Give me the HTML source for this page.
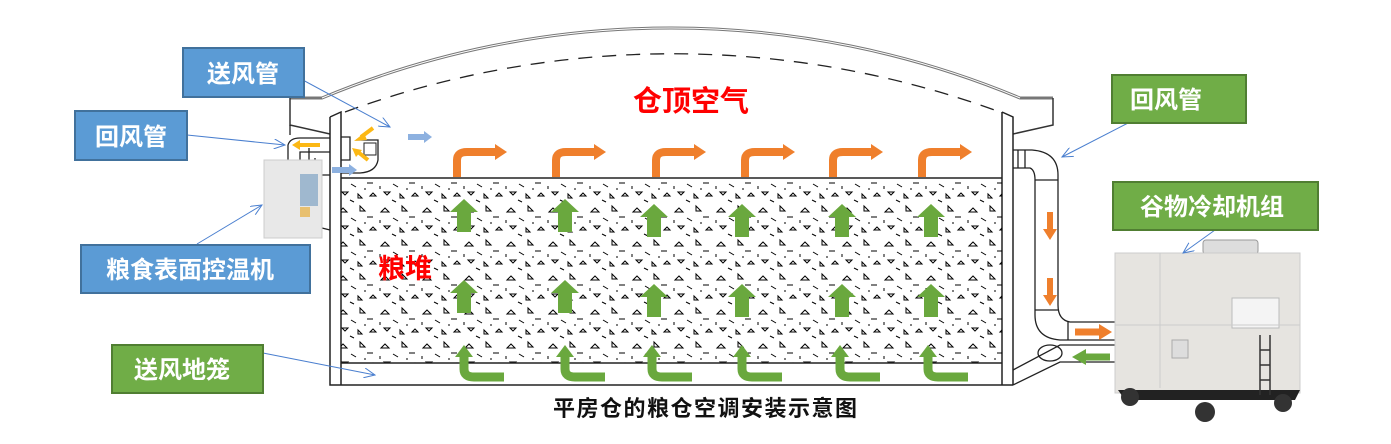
<!DOCTYPE html>
<html><head><meta charset="utf-8"><style>
body{margin:0;width:1391px;height:444px;background:#fff;overflow:hidden}
svg{display:block}
.lb{font-family:"Liberation Sans","Noto Sans CJK SC",sans-serif;font-weight:bold;fill:#fff}
</style></head><body>
<svg width="1391" height="444" viewBox="0 0 1391 444">
<defs>
<pattern id="g" width="42" height="34" patternUnits="userSpaceOnUse">
<g stroke="#000" stroke-width="1" fill="none">
<path d="M3 8 l4 -4 l4 4 z"/><path d="M24 2 v5 h5 z"/><path d="M15 14 l5 3"/><path d="M31 13 h6"/>
<path d="M6 22 h6 l-3 3 z"/><path d="M22 24 v4 h4 z"/><path d="M34 26 l3 -3 l3 3 z"/><path d="M14 30 l4 2"/>
<path d="M2 16 v3"/><path d="M28 19 h2"/>
</g>
</pattern>
<marker id="ab" markerWidth="12" markerHeight="10" refX="11" refY="5" orient="auto" markerUnits="userSpaceOnUse"><path d="M0 0 L11 5 L0 10" fill="none" stroke="#4a7fcf" stroke-width="1"/></marker>
<g id="oa"><path d="M0 25 V8 Q0 0 10 0 H40" fill="none" stroke="#ef7f2c" stroke-width="8"/><path d="M38 -8 L50 0 L38 8 z" fill="#ef7f2c"/></g>
<g id="ua"><path d="M-14 13 L0 0 L14 13 H7 V33 H-7 V13 z" fill="#6aa83e"/></g>
<g id="la"><path d="M0 8 V22 Q0 30 10 30 H40" fill="none" stroke="#6aa83e" stroke-width="9"/><path d="M-9 10 L0 -2 L9 10 z" fill="#6aa83e"/></g>
</defs>
<!-- roof -->
<path d="M290 98 H322 A905 905 0 0 1 1020 98 H1053" fill="none" stroke="#777" stroke-width="3"/>
<path d="M322 98 A905 905 0 0 1 1020 98" fill="none" stroke="#fff" stroke-width="1"/>
<path d="M345 112 A950 950 0 0 1 1000 112" fill="none" stroke="#222" stroke-width="1.3" stroke-dasharray="14 10"/>
<path d="M290 98 V125 L330 134" fill="none" stroke="#333" stroke-width="1.5"/>
<path d="M1053 98 V125 L1013 134" fill="none" stroke="#333" stroke-width="1.5"/>
<!-- walls -->
<path d="M330 117 L341 112 V385 M330 117 V385 H1013 M1002 112 L1013 117 V385 M1002 112 V385" fill="none" stroke="#222" stroke-width="1.5"/>
<!-- grain -->
<rect x="341" y="178" width="661" height="185" fill="url(#g)"/>
<path d="M341 178 H1002 M341 363 H1002" stroke="#222" stroke-width="1.5"/>
<!-- right duct -->
<g fill="none" stroke="#222" stroke-width="1.3">
<path d="M1013 150 H1032 Q1058 152 1058 175 V305 Q1058 320 1070 322 H1115"/>
<path d="M1013 168 H1030 Q1035 170 1035 180 V315 Q1035 338 1060 340 H1115"/>
<path d="M1018 150 V168 M1025 150 V168 M1035 180 H1058 M1035 310 H1058 M1068 322 V340"/>
<ellipse cx="1050" cy="353" rx="12" ry="8"/>
<path d="M1013 370 L1060 345 H1115 M1013 385 L1060 362 H1115"/>
</g>
<path d="M1050 212 V230" stroke="#ef7f2c" stroke-width="6"/><path d="M1043 229 L1050 240 L1057 229z" fill="#ef7f2c"/>
<path d="M1050 278 V296" stroke="#ef7f2c" stroke-width="6"/><path d="M1043 295 L1050 306 L1057 295z" fill="#ef7f2c"/>
<path d="M1075 332 H1100" stroke="#ef7f2c" stroke-width="7"/><path d="M1099 324 L1112 332 L1099 340z" fill="#ef7f2c"/>
<path d="M1085 357 H1110" stroke="#6aa83e" stroke-width="7"/><path d="M1086 349 L1072 357 L1086 365z" fill="#6aa83e"/>
<!-- cooling unit -->
<rect x="1203" y="240" width="55" height="14" rx="3" fill="#ddd" stroke="#999"/>
<rect x="1115" y="253" width="185" height="140" fill="#e6e4e0" stroke="#ccc"/>
<rect x="1232" y="298" width="47" height="30" fill="#f4f4f4" stroke="#bbb"/>
<rect x="1172" y="340" width="16" height="18" fill="#ddd" stroke="#aaa"/>
<path d="M1160 253 V388 M1115 325 H1300" stroke="#ccc"/>
<path d="M1118 390 H1300 L1295 400 H1125 z" fill="#222"/>
<path d="M1260 335 V395 M1270 335 V395 M1260 350 H1270 M1260 365 H1270 M1260 380 H1270" stroke="#333" stroke-width="1.5"/>
<circle cx="1130" cy="397" r="9" fill="#333"/><circle cx="1205" cy="412" r="10" fill="#333"/><circle cx="1283" cy="403" r="9" fill="#333"/>
<!-- left unit and ducts -->
<g fill="none" stroke="#222" stroke-width="1.3">
<path d="M290 125 V135"/>
<path d="M288 160 V145 Q290 138 300 138 H330 M300 160 V152 H330 M307 175 H330 M315 175 V158"/>
<path d="M341 137 H350 V160 H341"/>
<path d="M356 140 H378 V160 Q376 172 360 173 H341"/>
<path d="M309 230 V148 M306 226 L322 228 L330 230"/>
</g>
<rect x="364" y="143" width="12" height="12" fill="#fff" stroke="#222"/>
<rect x="264" y="160" width="58" height="78" fill="#e8e8e8" stroke="#ccc"/>
<rect x="300" y="174" width="18" height="32" fill="#9fb8cf"/>
<rect x="300" y="207" width="10" height="10" fill="#e8c070"/>
<path d="M298 145 H320" stroke="#fcb814" stroke-width="4"/><path d="M300 140 L292 145 L300 150z" fill="#fcb814"/>
<path d="M373 128 L361 137" stroke="#fcb814" stroke-width="4"/><path d="M354 141 L364 133 L367 140z" fill="#fcb814"/>
<path d="M368 160 L358 152" stroke="#fcb814" stroke-width="4"/><path d="M352 148 L362 150 L356 157z" fill="#fcb814"/>
<path d="M332 170 H350" stroke="#8db1e0" stroke-width="6"/><path d="M349 164 L357 170 L349 176z" fill="#8db1e0"/>
<path d="M408 137 H425" stroke="#8db1e0" stroke-width="6"/><path d="M424 131 L432 137 L424 143z" fill="#8db1e0"/>
<!-- orange arrows -->
<use href="#oa" x="457" y="152"/><use href="#oa" x="556" y="152"/><use href="#oa" x="656" y="152"/>
<use href="#oa" x="745" y="152"/><use href="#oa" x="833" y="152"/><use href="#oa" x="922" y="152"/>
<!-- up arrows -->
<use href="#ua" x="464" y="199"/><use href="#ua" x="565" y="199"/><use href="#ua" x="654" y="204"/><use href="#ua" x="742" y="204"/><use href="#ua" x="842" y="204"/><use href="#ua" x="931" y="204"/>
<use href="#ua" x="464" y="280"/><use href="#ua" x="565" y="280"/><use href="#ua" x="654" y="284"/><use href="#ua" x="742" y="284"/><use href="#ua" x="842" y="284"/><use href="#ua" x="931" y="284"/>
<use href="#la" x="464" y="347"/><use href="#la" x="565" y="347"/><use href="#la" x="652" y="347"/><use href="#la" x="742" y="347"/><use href="#la" x="840" y="347"/><use href="#la" x="928" y="347"/>
<!-- leader lines -->
<g stroke="#4a7fcf" stroke-width="1" fill="none">
<path d="M275 65 L390 127" marker-end="url(#ab)"/>
<path d="M187 135 L285 145" marker-end="url(#ab)"/>
<path d="M197 244 L262 205" marker-end="url(#ab)"/>
<path d="M263 353 L375 375" marker-end="url(#ab)"/>
<path d="M1130 122 L1062 157" marker-end="url(#ab)"/>
<path d="M1215 230 L1183 253" marker-end="url(#ab)"/>
</g>
<!-- labels -->
<rect x="183" y="48" width="121" height="49" fill="#5b9bd5" stroke="#41719c" stroke-width="2"/>
<text x="243" y="82" class="lb" font-size="24" text-anchor="middle">送风管</text>
<rect x="75" y="111" width="112" height="49" fill="#5b9bd5" stroke="#41719c" stroke-width="2"/>
<text x="131" y="145" class="lb" font-size="24" text-anchor="middle">回风管</text>
<rect x="81" y="245" width="229" height="48" fill="#5b9bd5" stroke="#41719c" stroke-width="2"/>
<text x="190" y="278" class="lb" font-size="24" text-anchor="middle">粮食表面控温机</text>
<rect x="112" y="345" width="151" height="48" fill="#70ad47" stroke="#507e32" stroke-width="2"/>
<text x="182" y="378" class="lb" font-size="24" text-anchor="middle">送风地笼</text>
<rect x="1112" y="75" width="134" height="48" fill="#70ad47" stroke="#507e32" stroke-width="2"/>
<text x="1166" y="108" class="lb" font-size="24" text-anchor="middle">回风管</text>
<rect x="1113" y="182" width="205" height="48" fill="#70ad47" stroke="#507e32" stroke-width="2"/>
<text x="1212" y="215" class="lb" font-size="24" text-anchor="middle">谷物冷却机组</text>
<text x="691" y="111" font-family="Liberation Sans,Noto Sans CJK SC,sans-serif" font-weight="bold" font-size="29" fill="#f00" text-anchor="middle">仓顶空气</text>
<text x="405" y="278" font-family="Liberation Sans,Noto Sans CJK SC,sans-serif" font-weight="bold" font-size="27" fill="#f00" text-anchor="middle">粮堆</text>
<text x="553" y="416" font-family="Liberation Sans,Noto Sans CJK SC,sans-serif" font-weight="bold" font-size="22" letter-spacing="1.5" fill="#111">平房仓的粮仓空调安装示意图</text>
</svg>
</body></html>
